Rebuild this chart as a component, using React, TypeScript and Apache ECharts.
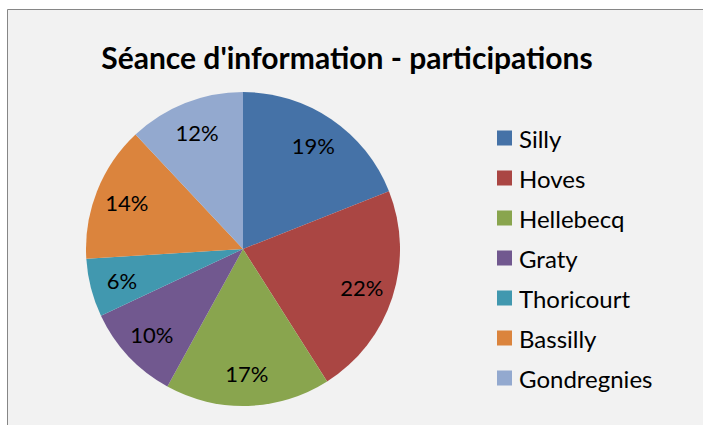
import React, { useEffect, useRef } from "react";
import * as echarts from "echarts";

const categories = ["Silly", "Hoves", "Hellebecq", "Graty", "Thoricourt", "Bassilly", "Gondregnies"];
const shares = [19, 22, 17, 10, 6, 14, 12];
const colors = ["#4572A7", "#AA4643", "#89A54E", "#71588F", "#4198AF", "#DB843D", "#93A9CF"];
const titleText = "Séance d'information - participations";

export default function App() {
  const ref = useRef<HTMLDivElement>(null);
  useEffect(() => {
    document.body.style.margin = "0";
    const chart = echarts.init(ref.current!, null, { renderer: "svg" });
    const data = categories.map((name, i) => ({ name, value: shares[i], itemStyle: { color: colors[i] } }));
    const font = "Lato, 'Open Sans', sans-serif";
    chart.setOption({
      animation: false,
      backgroundColor: "#ffffff",
      graphic: [
        {
          type: "rect",
          shape: { x: 7.5, y: 9.5, width: 720, height: 440 },
          style: { fill: "#f2f2f2", stroke: "#868686", lineWidth: 1 },
          z: -10,
          silent: true,
        },
      ],
      title: {
        text: titleText,
        left: 342,
        textAlign: "center",
        top: 37,
        textStyle: { fontFamily: font, fontSize: 30, fontWeight: "bold", color: "#000" },
      },
      legend: {
        orient: "vertical",
        left: 497,
        top: 126,
        padding: 0,
        itemWidth: 15,
        itemHeight: 15,
        itemGap: 16,
        icon: "rect",
        data: categories,
        textStyle: { fontFamily: font, fontSize: 24, color: "#000", padding: [0, 0, 0, 2] },
      },
      series: [
        {
          type: "pie",
          center: [243, 249],
          radius: [0, 157],
          startAngle: 90,
          clockwise: true,
          data,
          label: { show: false },
          labelLine: { show: false },
          silent: true,
        },
        {
          type: "pie",
          center: [243, 249],
          radius: [87, 157],
          startAngle: 90,
          clockwise: true,
          data: categories.map((name, i) => ({ name, value: shares[i], itemStyle: { color: "rgba(0,0,0,0)" } })),
          label: {
            show: true,
            position: "inside",
            formatter: "{c}%",
            fontFamily: font,
            fontSize: 22,
            color: "#000",
          },
          labelLine: { show: false },
          silent: true,
          legendHoverLink: false,
        },
      ],
    });
    return () => chart.dispose();
  }, []);
  return <div ref={ref} style={{ width: 703, height: 425 }} />;
}
